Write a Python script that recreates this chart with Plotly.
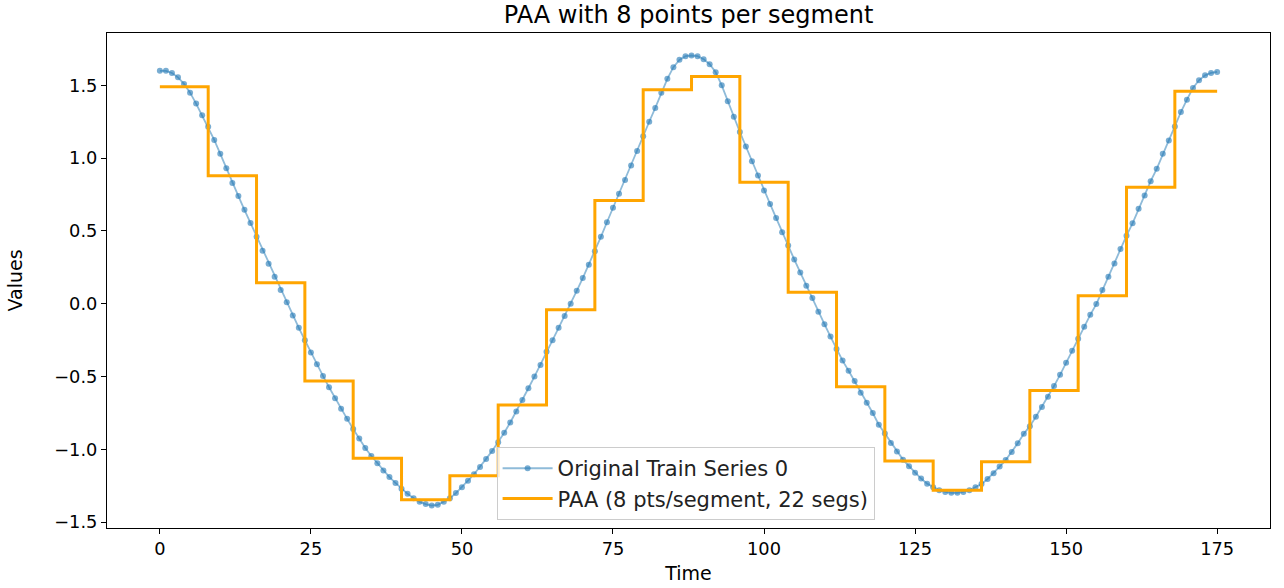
import plotly.graph_objects as go

# Original training series (one sample per time step)
series_values = [
    1.600, 1.600, 1.585, 1.555, 1.510, 1.450, 1.375, 1.295,
    1.215, 1.125, 1.030, 0.930, 0.830, 0.740, 0.645, 0.555,
    0.460, 0.365, 0.275, 0.185, 0.095, 0.010, -0.080, -0.165,
    -0.250, -0.335, -0.415, -0.495, -0.573, -0.648, -0.720, -0.790,
    -0.860, -0.925, -0.990, -1.045, -1.095, -1.145, -1.190, -1.230,
    -1.270, -1.305, -1.335, -1.360, -1.375, -1.385, -1.380, -1.360,
    -1.335, -1.300, -1.260, -1.215, -1.170, -1.120, -1.065, -1.010,
    -0.950, -0.885, -0.815, -0.740, -0.660, -0.580, -0.500, -0.420,
    -0.330, -0.250, -0.165, -0.083, 0.000, 0.089, 0.177, 0.268,
    0.360, 0.460, 0.560, 0.660, 0.755, 0.850, 0.950, 1.050,
    1.150, 1.250, 1.345, 1.450, 1.545, 1.625, 1.675, 1.700,
    1.705, 1.700, 1.680, 1.645, 1.590, 1.500, 1.390, 1.285,
    1.180, 1.080, 0.979, 0.881, 0.778, 0.686, 0.590, 0.491,
    0.400, 0.305, 0.215, 0.124, 0.039, -0.055, -0.140, -0.225,
    -0.310, -0.390, -0.460, -0.530, -0.610, -0.680, -0.750, -0.830,
    -0.890, -0.955, -1.015, -1.070, -1.115, -1.160, -1.200, -1.235,
    -1.260, -1.280, -1.292, -1.298, -1.298, -1.292, -1.280, -1.260,
    -1.237, -1.203, -1.163, -1.118, -1.073, -1.018, -0.958, -0.893,
    -0.840, -0.775, -0.708, -0.638, -0.565, -0.488, -0.405, -0.322,
    -0.240, -0.158, -0.076, -0.002, 0.094, 0.186, 0.277, 0.376,
    0.468, 0.553, 0.652, 0.743, 0.842, 0.927, 1.030, 1.122,
    1.218, 1.317, 1.402, 1.482, 1.535, 1.569, 1.585, 1.592,
]

# Piecewise aggregate approximation: one level per 8-point segment
paa_levels = [
    1.49, 0.88, 0.145, -0.53, -1.06, -1.345, -1.18, -0.695,
    -0.04, 0.71, 1.47, 1.56, 0.835, 0.08, -0.57, -1.08,
    -1.28, -1.085, -0.595, 0.055, 0.80, 1.46,
]
points_per_segment = 8

x_ticks = [0, 25, 50, 75, 100, 125, 150, 175]
y_ticks = [-1.5, -1.0, -0.5, 0.0, 0.5, 1.0, 1.5]
y_tick_text = ["\u22121.5", "\u22121.0", "\u22120.5", "0.0", "0.5", "1.0", "1.5"]

time_idx = list(range(len(series_values)))
n_seg = len(paa_levels)
last_t = time_idx[-1]

# Segment edges for the step line; final level held to the last time step
seg_x = [i * points_per_segment for i in range(n_seg)] + [last_t]
seg_y = paa_levels + [paa_levels[-1]]

FONT = "DejaVu Sans"
BLUE = "31,119,180"

fig = go.Figure()
fig.add_trace(go.Scatter(
    x=time_idx, y=series_values, mode="lines+markers",
    name="Original Train Series 0", legendgroup="a",
    line=dict(color=f"rgba({BLUE},0.5)", width=1.8),
    marker=dict(color=f"rgba({BLUE},0.6)", size=6, line=dict(width=0)),
))
fig.add_trace(go.Scatter(
    x=seg_x, y=seg_y, mode="lines", line_shape="hv",
    name=f"PAA ({points_per_segment} pts/segment, {n_seg} segs)", legendgroup="b",
    line=dict(color="#FFA500", width=3),
))

# Axis limits with 5% padding around the data
x_min, x_max = 0, last_t
x_pad = 0.05 * (x_max - x_min)
all_y = series_values + paa_levels
y_min, y_max = min(all_y), max(all_y)
y_pad = 0.05 * (y_max - y_min)

axis_common = dict(
    showgrid=False, zeroline=False, showline=True, linecolor="black",
    linewidth=1.1, mirror=True, ticks="outside", ticklen=5, tickwidth=1.1,
    tickcolor="black", tickfont=dict(family=FONT, size=17.8, color="black"),
    automargin=False,
)

fig.update_layout(
    width=1284, height=588,
    margin=dict(l=107, r=14, t=33, b=60),
    paper_bgcolor="white", plot_bgcolor="white",
    font=dict(family=FONT, color="black"),
    title=dict(text="PAA with 8 points per segment", x=0.5, xref="paper",
               y=1 - 15 / 588, yref="container", yanchor="middle",
               font=dict(family=FONT, size=24, color="black")),
    xaxis=dict(range=[x_min - x_pad, x_max + x_pad], tickvals=x_ticks,
               title=dict(text="Time", standoff=8,
                          font=dict(family=FONT, size=19, color="black")),
               **axis_common),
    yaxis=dict(range=[y_min - y_pad, y_max + y_pad], tickvals=y_ticks,
               ticktext=y_tick_text,
               title=dict(text="Values", standoff=26,
                          font=dict(family=FONT, size=19, color="black")),
               **axis_common),
    legend=dict(x=0.335, xanchor="left", y=0.016, yanchor="bottom",
                bgcolor="rgba(255,255,255,0.8)", bordercolor="#cccccc",
                borderwidth=1, font=dict(family=FONT, size=21, color="#222"),
                traceorder="grouped", tracegroupgap=0, itemwidth=50),
    showlegend=True,
)

fig.write_html("out.html")
